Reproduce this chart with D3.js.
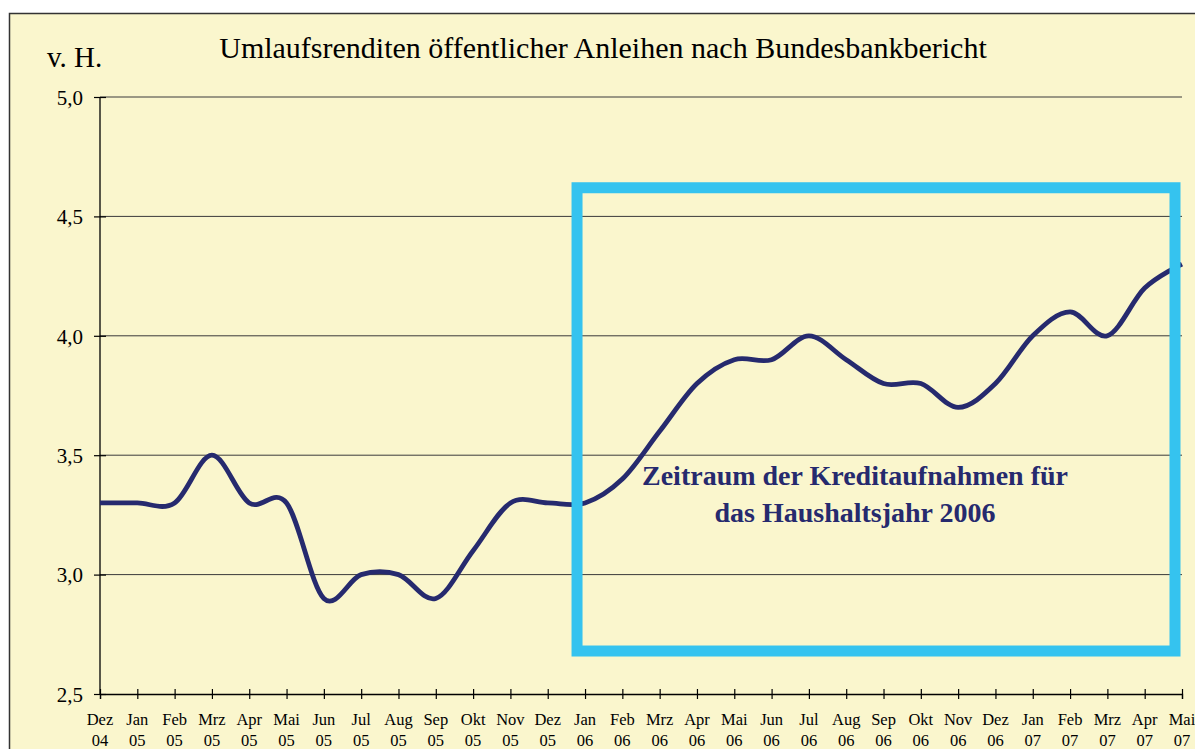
<!DOCTYPE html>
<html><head><meta charset="utf-8">
<script src="https://cdn.jsdelivr.net/npm/d3@7"></script>
<style>html,body{margin:0;padding:0;background:#fff;overflow:hidden}</style>
</head><body>
<script>
const months = ["Dez","Jan","Feb","Mrz","Apr","Mai","Jun","Jul","Aug","Sep","Okt","Nov","Dez","Jan","Feb","Mrz","Apr","Mai","Jun","Jul","Aug","Sep","Okt","Nov","Dez","Jan","Feb","Mrz","Apr","Mai"];
const years = ["04","05","05","05","05","05","05","05","05","05","05","05","05","06","06","06","06","06","06","06","06","06","06","06","06","07","07","07","07","07"];
const yields = [3.3,3.3,3.3,3.5,3.3,3.3,2.9,3.0,3.0,2.9,3.1,3.3,3.3,3.3,3.4,3.6,3.8,3.9,3.9,4.0,3.9,3.8,3.8,3.7,3.8,4.0,4.1,4.0,4.2,4.3];
const yTicks = [2.5,3.0,3.5,4.0,4.5,5.0];
const highlightStart = 13, highlightEnd = 29;
const highlightRange = [2.68, 4.62];

const W = 1195, H = 749;
const svg = d3.select("body").append("svg").attr("width", W).attr("height", H);
const serif = "'Liberation Serif','Times New Roman',serif";

svg.append("rect").attr("x", 9.5).attr("y", 13.5).attr("width", 1200).attr("height", 760)
  .attr("fill", "#FAF6CD").attr("stroke", "#333").attr("stroke-width", 1.5);

const x = d3.scaleLinear().domain([0, months.length - 1]).range([100, 1182]);
const y = d3.scaleLinear().domain([2.5, 5.0]).range([694, 97]);

// gridlines
svg.append("g").selectAll("line").data(yTicks.slice(1)).join("line")
  .attr("x1", 100).attr("x2", 1182).attr("y1", d => y(d)).attr("y2", d => y(d))
  .attr("stroke", "#3a3a3a").attr("stroke-width", 1);

// y axis
const yAxis = svg.append("g").attr("transform", "translate(100,0)")
  .call(d3.axisLeft(y).tickValues(yTicks).tickSize(6).tickPadding(11)
    .tickFormat(d => d3.format(".1f")(d).replace(".", ",")));
yAxis.select(".domain").remove();
yAxis.append("line").attr("x1", 0).attr("x2", 0).attr("y1", y(5.0)).attr("y2", y(2.5)).attr("stroke", "#000").attr("stroke-width", 1.3);
yAxis.selectAll(".tick line").attr("x1", -6).attr("x2", 6).attr("stroke", "#000").attr("stroke-width", 1.2);
yAxis.selectAll(".tick text").attr("font-family", serif).attr("font-size", 21).attr("fill", "#000").attr("dy", "0.35em");

// x axis
const xAxis = svg.append("g").attr("transform", "translate(0,694)")
  .call(d3.axisBottom(x).tickValues(d3.range(months.length)).tickSize(5).tickFormat(""));
xAxis.select(".domain").attr("stroke", "#000").attr("stroke-width", 1.3);
xAxis.selectAll(".tick line").attr("y1", -5).attr("y2", 5).attr("stroke", "#000").attr("stroke-width", 1.2);
const lbl = svg.append("g").attr("font-family", serif).attr("font-size", 16.5).attr("fill", "#000").attr("text-anchor", "middle");
lbl.selectAll("text.m").data(months).join("text").attr("class", "m")
  .attr("x", (d, i) => x(i)).attr("y", 725).text(d => d);
lbl.selectAll("text.yr").data(years).join("text").attr("class", "yr")
  .attr("x", (d, i) => x(i)).attr("y", 746).text(d => d);

// line
const line = d3.line().x((d, i) => x(i)).y(d => y(d)).curve(d3.curveCardinal.tension(0));
svg.append("path").datum(yields).attr("d", line).attr("fill", "none")
  .attr("stroke", "#262A6E").attr("stroke-width", 4.8).attr("stroke-linejoin", "round");

// highlight box
svg.append("rect")
  .attr("x", x(highlightStart) - 8).attr("y", y(highlightRange[1]))
  .attr("width", x(highlightEnd) - 7 - (x(highlightStart) - 8))
  .attr("height", y(highlightRange[0]) - y(highlightRange[1]))
  .attr("fill", "none").attr("stroke", "#35C3EF").attr("stroke-width", 11);

svg.append("text").attr("x", 855).attr("y", 485).attr("text-anchor", "middle")
  .attr("font-family", serif).attr("font-weight", "bold").attr("font-size", 28).attr("fill", "#262A6E")
  .text("Zeitraum der Kreditaufnahmen für");
svg.append("text").attr("x", 855).attr("y", 522).attr("text-anchor", "middle")
  .attr("font-family", serif).attr("font-weight", "bold").attr("font-size", 28).attr("fill", "#262A6E")
  .text("das Haushaltsjahr 2006");

// titles
svg.append("text").attr("x", 603).attr("y", 58).attr("text-anchor", "middle")
  .attr("font-family", serif).attr("font-size", 30).attr("fill", "#000")
  .text("Umlaufsrenditen öffentlicher Anleihen nach Bundesbankbericht");
svg.append("text").attr("x", 47).attr("y", 67)
  .attr("font-family", serif).attr("font-size", 29).attr("fill", "#000").text("v. H.");
</script>
</body></html>
